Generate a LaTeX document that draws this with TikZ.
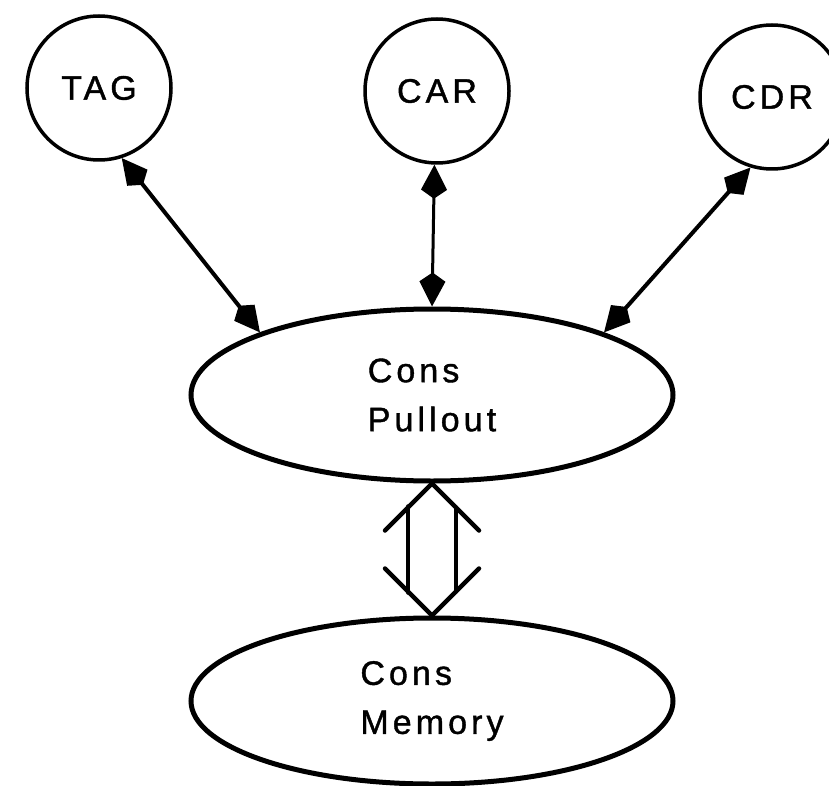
\documentclass[tikz,border=0pt]{standalone}
\usepackage{fontspec}
\setmainfont{Liberation Sans}[LetterSpace=12,FakeBold=1.2]
\usetikzlibrary{shapes.geometric,arrows.meta}
\begin{document}
\begin{tikzpicture}[x=1pt,y=-1pt,
  circ/.style={circle,draw,line width=3.5pt,minimum size=144pt,inner sep=0pt,
    font=\fontsize{34}{40}\selectfont},
  ell/.style={ellipse,draw,line width=5pt,minimum width=482pt,minimum height=172pt,
    inner sep=0pt,align=left,font=\fontsize{34}{49}\selectfont},
  kitetip/.tip={Kite[length=34pt,width=26pt,inset=9pt]},
  link/.style={line width=4pt,kitetip-kitetip},
  fat/.style={line width=4.5pt,line cap=round,line join=miter}]
\useasboundingbox (0,0) rectangle (829,786);
\node[circ] (tag) at (99,88) {TAG};
\node[circ] (car) at (437,91) {CAR};
\node[circ] (cdr) at (772,97) {CDR};
\node[ell] (pull) at (432,395) {Cons\\Pullout};
\node[ell,minimum height=166pt] (mem) at (432,701) {Cons\\Memory};
\draw[link] (tag.-72) -- (pull.160);
\draw[link,line width=3pt] (car.-92) -- (pull.north);
\draw[link] (cdr.-107) -- (pull.20);
\coordinate (T) at (pull.south);
\coordinate (B) at (mem.north);
\draw[fat] ([shift={(-47,47)}]T) -- (T) -- ([shift={(47,47)}]T);
\draw[fat] ([shift={(-47,-47)}]B) -- (B) -- ([shift={(47,-47)}]B);
\draw[fat] ([shift={(-24,23)}]T) -- ([shift={(-24,-23)}]B);
\draw[fat] ([shift={(24,24)}]T) -- ([shift={(24,-24)}]B);
\end{tikzpicture}
\end{document}
